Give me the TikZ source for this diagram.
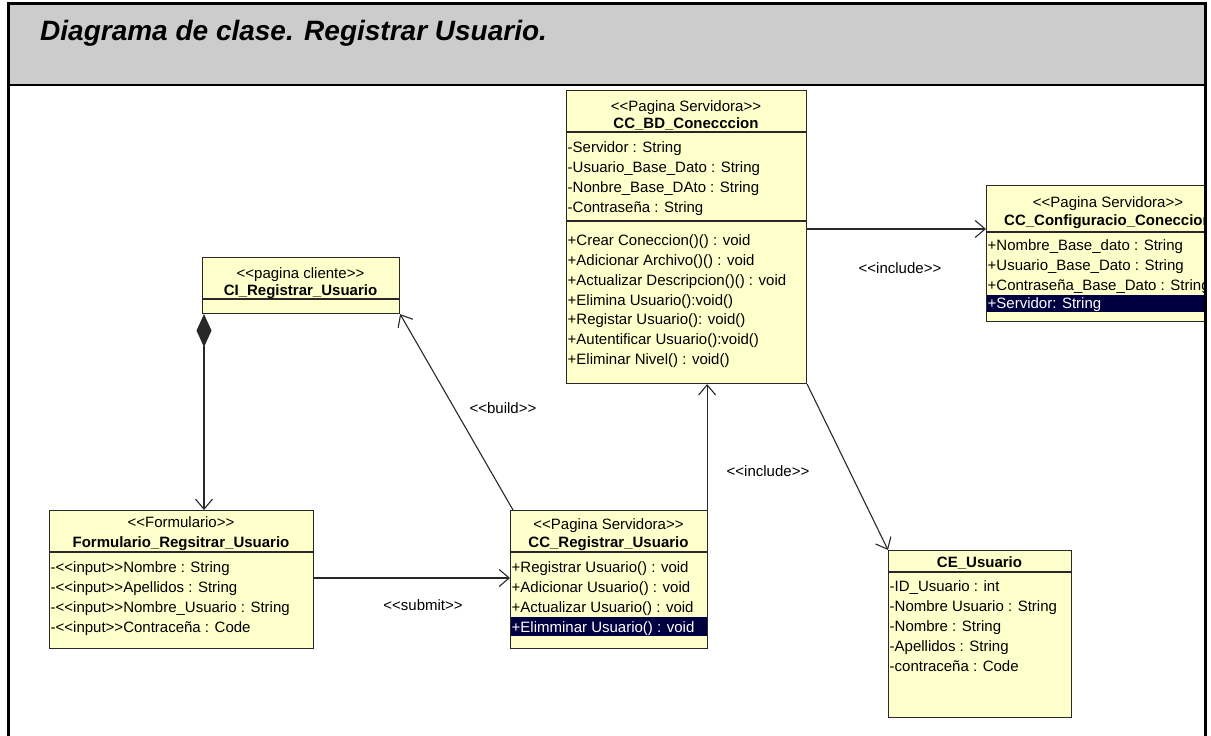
\documentclass[tikz,border=0pt]{standalone}
\usepackage{fontspec}
\setmainfont{Liberation Sans}[Ligatures=TeXOff]
\usetikzlibrary{arrows.meta}

\definecolor{classfill}{RGB}{255,255,204}
\definecolor{headgray}{RGB}{204,204,204}
\definecolor{selnavy}{RGB}{0,0,64}
\definecolor{edge}{RGB}{40,40,40}

\begin{document}
\begin{tikzpicture}[x=1pt,y=-1pt,
  font=\fontsize{15}{18}\selectfont,
  classbox/.style={draw=edge, fill=classfill, line width=1.1pt, inner sep=0pt, anchor=north west},
  sepline/.style={draw=edge, line width=1.1pt},
  row/.style={anchor=base west, inner sep=0pt},
  stereo/.style={anchor=base, inner sep=0pt},
  cname/.style={anchor=base, inner sep=0pt, font=\fontsize{15}{18}\selectfont\bfseries},
  selrow/.style={anchor=base west, inner sep=0pt, text=white},
  link/.style={draw=edge, line width=1.1pt},
  openarrow/.style={-{Straight Barb[length=10pt,width=17pt]}},
  lbl/.style={anchor=base, inner sep=0pt}
]
\useasboundingbox (0,0) rectangle (1211,736);

% header band and frame
\fill[headgray] (8,3) rectangle (1205,85);
\node[anchor=base west, inner sep=0pt, font=\fontsize{28}{32}\selectfont\bfseries\itshape] (title) at (40,40) {Diagrama de clase. Registrar Usuario.};

% ---------- CC_BD_Conecccion ----------
\node[classbox, minimum width=240pt, minimum height=293pt] (bd) at (566,90) {};
\node[stereo] at (686,111) {<<Pagina Servidora>>};
\node[cname] at (686,128) {CC\_BD\_Conecccion};
\draw[sepline] (566,132) -- (806,132);
\node[row] at (567.5,152) {-Servidor : String};
\node[row] at (567.5,172) {-Usuario\_Base\_Dato : String};
\node[row] at (567.5,192) {-Nonbre\_Base\_DAto : String};
\node[row] at (567.5,212) {-Contraseña : String};
\draw[sepline] (566,221) -- (806,221);
\node[row] at (567.5,245) {+Crear Coneccion()() : void};
\node[row] at (567.5,265) {+Adicionar Archivo()() : void};
\node[row] at (567.5,285) {+Actualizar Descripcion()() : void};
\node[row] at (567.5,305) {+Elimina Usuario():void()};
\node[row] at (567.5,324) {+Registar Usuario(): void()};
\node[row] at (567.5,344) {+Autentificar Usuario():void()};
\node[row] at (567.5,364) {+Eliminar Nivel() : void()};

% ---------- CC_Configuracio_Coneccion (runs past the frame) ----------
\begin{scope}
\clip (0,0) rectangle (1204,736);
\node[classbox, minimum width=244pt, minimum height=136pt] (cfg) at (986,185) {};
\node[stereo] at (1108,207) {<<Pagina Servidora>>};
\node[cname] at (1108,225) {CC\_Configuracio\_Coneccion};
\draw[sepline] (986,232) -- (1230,232);
\node[row] at (987.5,250) {+Nombre\_Base\_dato : String};
\node[row] at (987.5,270) {+Usuario\_Base\_Dato : String};
\node[row] at (987.5,290) {+Contraseña\_Base\_Dato : String};
\fill[selnavy] (986.5,295) rectangle (1229,312);
\node[selrow] at (987.5,308) {+Servidor: String};
\end{scope}

% ---------- CI_Registrar_Usuario ----------
\node[classbox, minimum width=197pt, minimum height=56pt] (ci) at (202,257) {};
\node[stereo] at (300.5,278) {<<pagina cliente>>};
\node[cname] at (300.5,295) {CI\_Registrar\_Usuario};
\draw[sepline] (202,299) -- (399,299);

% ---------- Formulario_Regsitrar_Usuario ----------
\node[classbox, minimum width=264pt, minimum height=138pt] (frm) at (49,510) {};
\node[stereo] at (181,527) {<<Formulario>>};
\node[cname] at (181,547) {Formulario\_Regsitrar\_Usuario};
\draw[sepline] (49,552) -- (313,552);
\node[row] at (50.5,572) {-<<input>>Nombre : String};
\node[row] at (50.5,592) {-<<input>>Apellidos : String};
\node[row] at (50.5,612) {-<<input>>Nombre\_Usuario : String};
\node[row] at (50.5,632) {-<<input>>Contraceña : Code};

% ---------- CC_Registrar_Usuario ----------
\node[classbox, minimum width=197pt, minimum height=138pt] (reg) at (510,510) {};
\node[stereo] at (608.5,529) {<<Pagina Servidora>>};
\node[cname] at (608.5,547) {CC\_Registrar\_Usuario};
\draw[sepline] (510,552) -- (707,552);
\node[row] at (511.5,572) {+Registrar Usuario() : void};
\node[row] at (511.5,592) {+Adicionar Usuario() : void};
\node[row] at (511.5,612) {+Actualizar Usuario() : void};
\fill[selnavy] (510.5,617) rectangle (706.5,636);
\node[selrow] at (511.5,632) {+Elimminar Usuario() : void};

% ---------- CE_Usuario ----------
\node[classbox, minimum width=183pt, minimum height=167pt] (ce) at (888,550) {};
\node[cname] at (979.5,567) {CE\_Usuario};
\draw[sepline] (888,572) -- (1071,572);
\node[row] at (889.5,591) {-ID\_Usuario : int};
\node[row] at (889.5,611) {-Nombre Usuario : String};
\node[row] at (889.5,631) {-Nombre : String};
\node[row] at (889.5,651) {-Apellidos : String};
\node[row] at (889.5,671) {-contraceña : Code};

% ---------- connectors ----------
% composition: client page owns the form
\draw[link, {Diamond[length=33pt,width=15pt]}-{Straight Barb[length=10pt,width=17pt]}]
  ([xshift=2pt]ci.south west) -- ([xshift=2pt]ci.south west |- frm.north);
% build
\draw[link, openarrow] ([xshift=3pt]reg.north west) -- (ci.south east);
\node[lbl] (lbuild) at (503,413) {<<build>>};
% submit
\draw[link, openarrow] (frm.east |- 0,578) -- (reg.west |- 0,578);
\node[lbl] (lsubmit) at (423,610) {<<submit>>};
% include: registration page to database connection
\draw[link, openarrow] ([xshift=-1pt]reg.north east) -- ([xshift=-1pt]reg.north east |- bd.south);
\node[lbl] (linc1) at (768,476) {<<include>>};
% include: connection to configuration
\draw[link, openarrow] (bd.east |- 0,229) -- (cfg.west |- 0,229);
\node[lbl] (linc2) at (900,273) {<<include>>};
% connection to user entity
\draw[link, openarrow] (bd.south east) -- (ce.north west);

% frame lines
\draw[line width=3pt] (8,736) -- (8,3) -- (1205,3) -- (1205,736);
\draw[line width=2.5pt] (8,85) -- (1205,85);
\end{tikzpicture}
\end{document}
